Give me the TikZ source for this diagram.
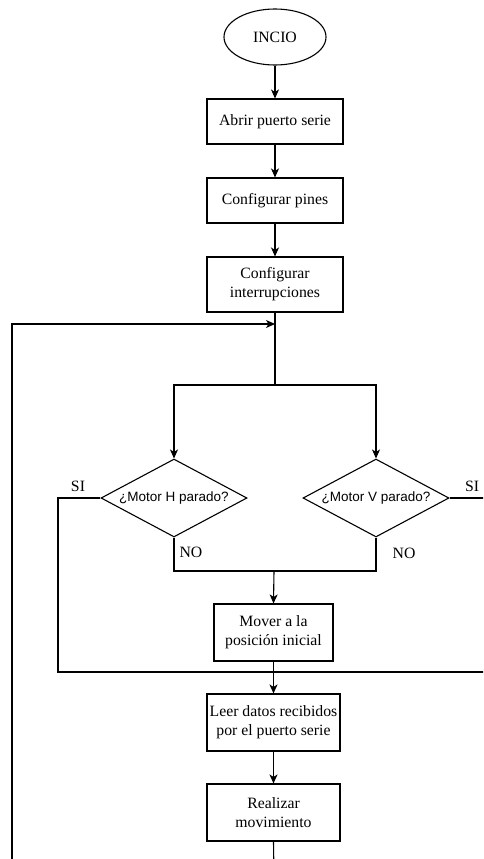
\documentclass[tikz,border=0pt]{standalone}
\usepackage{fontspec}
\setmainfont{Liberation Serif}
\newfontfamily\diamfont{Liberation Sans}
\usetikzlibrary{shapes.geometric,arrows.meta}
\begin{document}
\begin{tikzpicture}[x=1pt,y=-1pt,
  line width=1.1pt,
  every node/.style={font=\fontsize{15.75}{19}\selectfont},
  flowbox/.style={draw,rectangle,align=center,inner sep=0pt,minimum width=136,minimum height=45},
  startshape/.style={draw,ellipse,inner sep=0pt,minimum width=102,minimum height=56},
  decision/.style={draw,diamond,inner sep=0pt,shape aspect=1.87,minimum width=146,minimum height=78,
    font=\diamfont\fontsize{13.5}{16}\selectfont},
  lbl/.style={inner sep=0pt},
  arr/.style={-{Stealth[length=9pt,width=8pt,inset=2.5pt]}}]
\useasboundingbox (0,0) rectangle (483,859);
\clip (0,0) rectangle (483,859);
\fill[white] (0,0) rectangle (483,859);

% main column
\node[startshape] (start) at (275,37) {INCIO};
\node[flowbox] (abrir) at (275,121.5) {Abrir puerto serie};
\node[flowbox] (pines) at (275,200.5) {Configurar pines};
\node[flowbox,minimum height=55] (inter) at (275,284.5) {Configurar\\interrupciones};

\coordinate (loopin) at (275,324);
\coordinate (split) at (275,385);
\coordinate (splitL) at (174,385);
\coordinate (splitR) at (376,385);

% decisions
\node[decision] (dh) at (174,498) {¿Motor H parado?};
\node[decision] (dv) at (376,498) {¿Motor V parado?};

\node[lbl] (siL) at (78,486) {SI};
\node[lbl] (siR) at (472,486) {SI};
\node[lbl] (noL) at (191,552) {NO};
\node[lbl] (noR) at (404,553) {NO};

\coordinate (noJoinL) at (174,571);
\coordinate (noJoinR) at (376,571);
\coordinate (noMid) at (274,571);

\node[flowbox,minimum width=119,minimum height=57] (mover) at (273.5,632.5) {Mover a la\\posición inicial};
\coordinate (siJoin) at (274,672);
\coordinate (siCornerL1) at (58,498);
\coordinate (siCornerL2) at (58,672);
\coordinate (siCornerR1) at (500,498);
\coordinate (siCornerR2) at (500,672);

\node[flowbox,minimum width=133,minimum height=57] (leer) at (273.5,722.5) {Leer datos recibidos\\por el puerto serie};
\node[flowbox,minimum width=133,minimum height=57] (mov) at (273.5,812.5) {Realizar\\movimiento};

\coordinate (bottomOut) at (274,880);
\coordinate (loopBottom) at (12,880);
\coordinate (loopTop) at (12,324);

% connectors
\draw[arr] (start) -- (abrir);
\draw[arr] (abrir) -- (pines);
\draw[arr] (pines) -- (inter);
\draw (inter.south) -- (split);
\draw[arr] (split) -- (splitL) -- (dh.north);
\draw[arr] (split) -- (splitR) -- (dv.north);
\draw (dh.west) -- (siCornerL1) -- (siCornerL2) -- (siJoin);
\draw (dv.east) -- (siCornerR1) -- (siCornerR2) -- (siJoin);
\draw (dh.south) -- (noJoinL) -- (noJoinR) -- (dv.south);
\draw[arr] (noMid) -- (mover.north);
\draw[arr] (mover.south) -- (leer.north);
\draw[arr] (leer.south) -- (mov.north);
\draw (mov.south) -- (bottomOut);
\draw[arr] (loopBottom) -- (loopTop) -- (loopin);
\end{tikzpicture}
\end{document}
